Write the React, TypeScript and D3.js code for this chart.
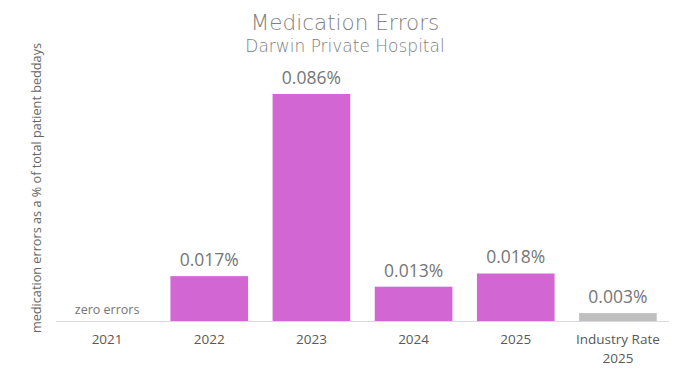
import React, { useRef, useEffect } from "react";
import * as d3 from "d3";

const categories = ["2021", "2022", "2023", "2024", "2025", "Industry Rate\n2025"];
const values = [0, 0.017, 0.086, 0.013, 0.018, 0.003];
const valueLabels = ["", "0.017%", "0.086%", "0.013%", "0.018%", "0.003%"];
const barColors = ["#d267d4", "#d267d4", "#d267d4", "#d267d4", "#d267d4", "#bfbfbf"];

const W = 681;
const H = 373;

const App: React.FC = () => {
  const svgRef = useRef<SVGSVGElement | null>(null);

  useEffect(() => {
    if (!svgRef.current) return;
    const svg = d3.select(svgRef.current);
    svg.selectAll("*").remove();

    const baseY = 321;
    const x = d3.scaleBand<string>()
      .domain(categories)
      .range([56, 669])
      .paddingInner(0.24)
      .paddingOuter(0.12);
    const y = d3.scaleLinear().domain([0, 0.086]).range([baseY, 94]);

    // titles
    svg.append("text")
      .attr("x", 345).attr("y", 30)
      .attr("text-anchor", "middle")
      .attr("font-family", "'DejaVu Sans', sans-serif")
      .attr("font-size", 21.5)
      .attr("font-weight", 300)
      .attr("fill", "#808080")
      .text("Medication Errors");
    svg.append("text")
      .attr("x", 345).attr("y", 52)
      .attr("text-anchor", "middle")
      .attr("font-family", "'DejaVu Sans', sans-serif")
      .attr("font-size", 17)
      .attr("font-weight", 300)
      .attr("fill", "#808080")
      .text("Darwin Private Hospital");

    // y axis title
    svg.append("text")
      .attr("transform", `translate(41, 188) rotate(-90)`)
      .attr("text-anchor", "middle")
      .attr("font-family", "'Open Sans', sans-serif")
      .attr("font-size", 12.7)
      .attr("fill", "#666666")
      .text("medication errors as a % of total patient beddays");

    // bars
    svg.append("g")
      .selectAll("rect")
      .data(values)
      .enter().append("rect")
      .attr("x", (_d, i) => x(categories[i]) as number)
      .attr("y", d => y(d))
      .attr("width", x.bandwidth())
      .attr("height", d => baseY - y(d))
      .attr("fill", (_d, i) => barColors[i]);

    // baseline
    svg.append("line")
      .attr("x1", 56).attr("x2", 669)
      .attr("y1", baseY + 0.5).attr("y2", baseY + 0.5)
      .attr("stroke", "#d9d9d9")
      .attr("stroke-width", 1);

    // value labels
    svg.append("g")
      .selectAll("text")
      .data(values)
      .enter().append("text")
      .attr("x", (_d, i) => (x(categories[i]) as number) + x.bandwidth() / 2)
      .attr("y", d => y(d) - 10)
      .attr("text-anchor", "middle")
      .attr("font-family", "'Open Sans', sans-serif")
      .attr("font-size", 17.5)
      .attr("fill", "#767676")
      .text((_d, i) => valueLabels[i]);

    // zero errors note
    svg.append("text")
      .attr("x", (x(categories[0]) as number) + x.bandwidth() / 2)
      .attr("y", baseY - 7)
      .attr("text-anchor", "middle")
      .attr("font-family", "'Open Sans', sans-serif")
      .attr("font-size", 12.5)
      .attr("fill", "#767676")
      .text("zero errors");

    // category labels
    const cat = svg.append("g")
      .selectAll("text")
      .data(categories)
      .enter().append("text")
      .attr("x", d => (x(d) as number) + x.bandwidth() / 2)
      .attr("y", 344)
      .attr("text-anchor", "middle")
      .attr("font-family", "'Open Sans', sans-serif")
      .attr("font-size", 13.5)
      .attr("fill", "#595959");
    cat.each(function (d) {
      const lines = d.split("\n");
      lines.forEach((l, j) => {
        d3.select(this).append("tspan")
          .attr("x", (x(d) as number) + x.bandwidth() / 2)
          .attr("dy", j === 0 ? 0 : 19)
          .text(l);
      });
    });
  }, []);

  return <svg ref={svgRef} width={W} height={H} style={{ display: "block", position: "absolute", left: 0, top: 0 }}></svg>;
};

export default App;
